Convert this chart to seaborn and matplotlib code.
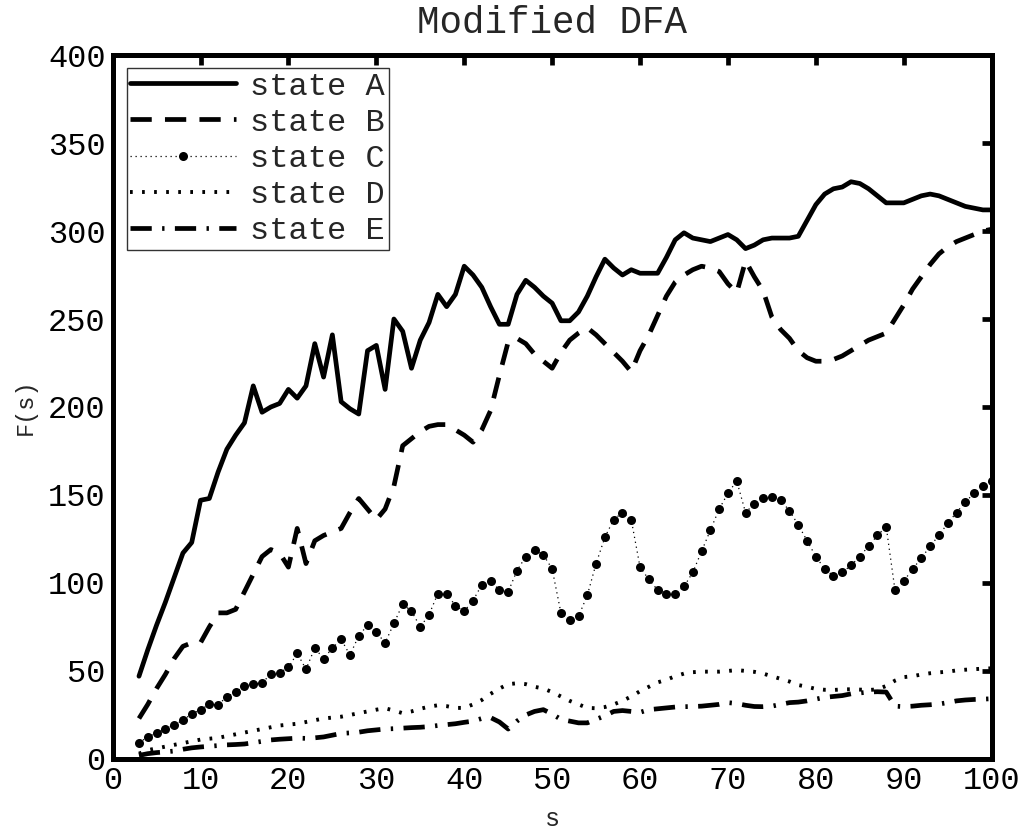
import numpy as np
import pandas as pd
import matplotlib
matplotlib.use("Agg")
import matplotlib.pyplot as plt
import seaborn as sns

# Window sizes s = 3 .. 100
s = list(range(3, 101))

state_a = [47, 62, 76, 89, 103, 117, 123, 147, 148, 163, 176, 184, 191, 212, 197, 200, 202, 210,
           205, 212, 236, 217, 241, 203, 199, 196, 232, 235, 210, 250, 243, 222, 238, 248, 264, 257,
           264, 280, 275, 268, 257, 247, 247, 264, 272, 268, 263, 259, 249, 249, 254, 263, 274, 284,
           279, 275, 278, 276, 276, 276, 285, 295, 299, 296, 295, 294, 296, 298, 295, 290, 292, 295,
           296, 296, 296, 297, 306, 315, 321, 324, 325, 328, 327, 324, 320, 316, 316, 316, 318, 320,
           321, 320, 318, 316, 314, 313, 312, 312]

state_b = [23, 31, 40, 48, 57, 64, 66, 66, 75, 83, 83, 85, 95, 105, 115, 119, 117, 109, 131, 111,
           124, 127, 129, 131, 140, 148, 142, 136, 142, 155, 178, 182, 186, 189, 190, 190, 187, 184,
           180, 187, 198, 218, 237, 239, 236, 230, 226, 222, 231, 238, 242, 245, 241, 236, 231, 226,
           220, 232, 241, 252, 263, 271, 275, 278, 280, 279, 277, 270, 265, 283, 274, 266, 251, 244,
           239, 232, 228, 226, 226, 227, 229, 232, 235, 238, 240, 242, 250, 258, 267, 274, 281, 287,
           291, 294, 296, 298, 300, 301]

state_c = [9, 12.7, 14.6, 17, 19.3, 22, 25.6, 28, 31, 30.7, 35.4, 38, 41.5, 42.4, 43.4, 48, 49, 52,
           60, 51, 63, 57, 63, 68, 59, 70, 76, 72, 66, 77, 88, 84, 75, 82, 94, 94, 87, 84, 90, 99,
           101, 96, 95, 107, 115, 119, 116, 108, 83, 79, 81, 93, 111, 126, 136, 140, 136, 109, 102,
           96, 94, 94, 98, 106, 118, 130, 142, 151, 158, 140, 145, 148, 149, 147, 141, 133, 124, 115,
           108, 104, 106, 110, 115, 121, 127, 132, 96, 101, 108, 114, 121, 127, 134, 140, 146, 151,
           155, 158]

state_d = [3, 5, 6, 7, 8, 9, 10, 11, 11.5, 12, 13, 14, 15, 16, 17, 18, 19, 19.5, 20, 21, 22, 23,
           23.5, 24, 25, 26, 27, 28, 28.8, 27.5, 26, 27, 28.5, 29.7, 30.5, 30, 29, 29, 31, 33.5, 37,
           40, 42.5, 43, 42.5, 41, 40, 38, 35.5, 33, 31, 29, 28.8, 29.5, 31, 33, 35.5, 38.5, 41,
           43.5, 45, 47, 48.5, 49.3, 49.6, 49.6, 49.6, 50, 50.5, 50, 49.5, 48.5, 47, 45.5, 44, 42,
           41, 39.8, 39.3, 39.2, 39.5, 39.6, 39.4, 39.2, 39.5, 41.5, 44.5, 46.5, 47, 48, 48.7, 49.2,
           49.6, 50.3, 50.7, 51, 51.3, 51.5]

state_e = [2, 3, 3.6, 4, 4.5, 5.5, 6.3, 6.8, 7.2, 7.6, 8, 8.2, 8.5, 9.2, 10, 10.8, 11.2, 11.5, 11.8,
           11.7, 12, 12.5, 13.5, 14.5, 14.8, 15.2, 16, 16.5, 17, 17.2, 17.5, 17.8, 18, 18.4, 19,
           19.5, 20, 20.8, 21.5, 23, 23.5, 21, 17, 21.5, 25, 27, 28, 25.5, 22.5, 21.5, 20.5, 20.5,
           22.5, 24.5, 27, 27.5, 27, 26.5, 28, 28.5, 29, 29.5, 29.7, 29.8, 30, 30.5, 31, 32, 31.5,
           30.5, 29.8, 29.7, 30, 31, 32, 32.3, 33, 34, 35, 35.5, 36, 37, 37.5, 38, 38.2, 38, 30,
           29.7, 30, 30.5, 30.8, 31.2, 32, 33, 33.5, 33.8, 34, 34.2]

labels = ["state A", "state B", "state C", "state D", "state E"]
x_ticks = list(range(0, 101, 10))
y_ticks = list(range(0, 401, 50))

sns.set_theme(style="white")
plt.rcParams["font.family"] = ["Liberation Mono", "DejaVu Sans Mono"]
plt.rcParams["axes.linewidth"] = 3.6
plt.rcParams["axes.edgecolor"] = "black"

fig = plt.figure(figsize=(10.33, 8.34), dpi=100)
ax = fig.add_axes([0.109, 0.090, 0.851, 0.844])

df = pd.DataFrame({"s": s, "A": state_a, "B": state_b, "C": state_c,
                   "D": state_d, "E": state_e})

sns.lineplot(data=df, x="s", y="A", ax=ax, color="black", linewidth=3.4,
             linestyle="-", label=labels[0])
sns.lineplot(data=df, x="s", y="B", ax=ax, color="black", linewidth=3.4,
             dashes=False, label=labels[1]).lines[-1].set_dashes([4.5, 2.8])
sns.lineplot(data=df, x="s", y="C", ax=ax, color="black", linewidth=0.9,
             linestyle=(0, (1, 3)), marker="o", markersize=6.5,
             markeredgewidth=0, label=labels[2])
sns.lineplot(data=df, x="s", y="D", ax=ax, color="black", linewidth=2.8,
             dashes=False, label=labels[3]).lines[-1].set_dashes([0.7, 2.4])
sns.lineplot(data=df, x="s", y="E", ax=ax, color="black", linewidth=3.4,
             dashes=False, label=labels[4]).lines[-1].set_dashes([4.5, 2.2, 0.5, 2.2])

ax.set_xlim(0, 100)
ax.set_ylim(0, 400)
ax.set_xticks(x_ticks)
ax.set_yticks(y_ticks)
ax.tick_params(axis="both", which="both", direction="in", length=7, width=3.4,
               top=True, right=True, labelsize=23, colors="black", pad=5)
for sp in ax.spines.values():
    sp.set_visible(True)
    sp.set_linewidth(3.6)
    sp.set_color("black")

ax.set_title("Modified DFA", fontsize=27, pad=16)
ax.set_xlabel("s", fontsize=18, labelpad=8)
ax.set_ylabel("F(s)", fontsize=17, labelpad=8)

leg = ax.legend(loc="upper left", bbox_to_anchor=(0.016, 0.982), fontsize=23,
                frameon=True, fancybox=False, edgecolor="black", numpoints=1,
                handlelength=3.3, handletextpad=0.45, labelspacing=0.19,
                borderpad=0.12, borderaxespad=0.0)
leg.get_frame().set_linewidth(1.0)

fig.savefig("out.png", dpi=100, facecolor="white")
